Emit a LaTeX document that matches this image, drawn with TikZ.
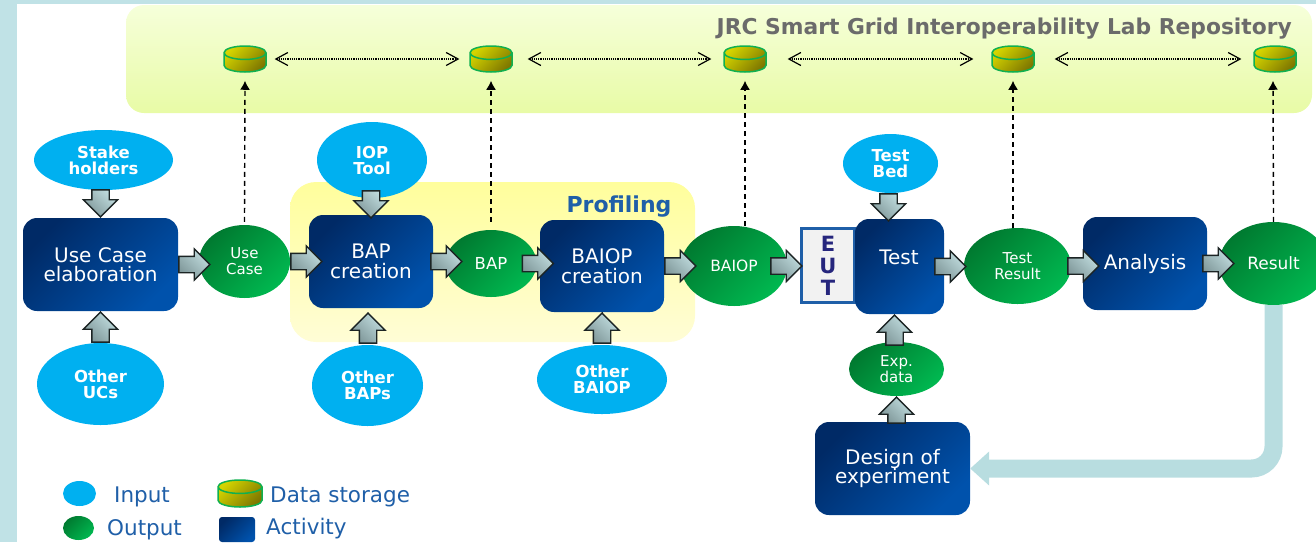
\documentclass[tikz,border=0pt]{standalone}
\usepackage{fontspec}
\setmainfont{DejaVu Sans}
\usetikzlibrary{arrows.meta,shapes.geometric,shapes.arrows}
\definecolor{framecol}{HTML}{C0E2E6}
\definecolor{inputcol}{HTML}{00B0F0}
\definecolor{labelcol}{HTML}{1F5FA8}
\definecolor{returncol}{HTML}{B8DDE0}
\definecolor{repotop}{HTML}{F6FFDA}
\definecolor{repobottom}{HTML}{E8FBA6}
\definecolor{profiletop}{HTML}{FFFE9C}
\definecolor{profilebottom}{HTML}{FFFDD6}
\definecolor{activitya}{HTML}{002A66}
\definecolor{activityb}{HTML}{0052AC}
\definecolor{outputa}{HTML}{007A30}
\definecolor{outputb}{HTML}{00B850}
\definecolor{storea}{HTML}{D4D400}
\definecolor{storeb}{HTML}{7F7800}
\definecolor{storeline}{HTML}{10B050}
\definecolor{arrowline}{HTML}{1C2424}
\definecolor{arrowa}{HTML}{7E9698}
\definecolor{arrowb}{HTML}{C2DEE0}
\tikzset{
	activity/.style={rectangle, rounded corners=14pt, inner sep=0pt, shade, shading=axis, left color=activitya, right color=activityb, shading angle=45, text=white, align=center, font=\fontsize{20}{19.5}\selectfont},
	input/.style={ellipse, inner sep=0pt, fill=inputcol, text=white, align=center, font=\bfseries\fontsize{16.5}{16}\selectfont},
	output/.style={ellipse, inner sep=0pt, shade, shading=axis, left color=outputa, right color=outputb, shading angle=45, text=white, align=center, font=\fontsize{15}{16}\selectfont},
	store/.style={cylinder, shape border rotate=90, shape aspect=0.32, inner xsep=21pt, inner ysep=0pt, minimum width=42pt, minimum height=26pt, anchor=shape center, draw=storeline, line width=1.5pt, shade, shading=axis, left color=storea, right color=storeb, shading angle=45},
	legendtext/.style={text=labelcol, font=\fontsize{21.5}{24}\selectfont, inner sep=0pt},
	flowline/.style={draw=arrowline, line width=0.5pt, shorten <=3pt},
	flowhead/.style={single arrow, inner xsep=0pt, inner ysep=7.5pt, minimum height=31pt, single arrow head extend=7.5pt, draw=arrowline, line width=1.3pt, shade, shading=axis, left color=arrowa, right color=arrowb, shading angle=135, pos=0, anchor=tail},
	flowdown/.style={flowhead, inner ysep=8pt, minimum height=27pt, single arrow head extend=8.5pt, rotate=-90, pos=1, anchor=tip},
	flowup/.style={flowhead, inner ysep=8pt, minimum height=30pt, single arrow head extend=8.5pt, rotate=90, pos=1, anchor=tip},
	savearrow/.style={-{Latex[length=9pt,width=10pt]}, line width=1.4pt, dash pattern=on 5pt off 4pt},
	linkarrow/.style={{Straight Barb[length=12pt,width=13pt]}-{Straight Barb[length=12pt,width=13pt]}, line width=1.2pt, dash pattern=on 1.2pt off 1pt},
	returnarrow/.style={draw=returncol, line width=18pt, rounded corners=22pt, -{Triangle[length=19pt,width=33pt]}}
}
\begin{document}
\begin{tikzpicture}[x=1pt,y=-1pt]
		\useasboundingbox (0,0) rectangle (1316,542);
		\fill[framecol] (0,0) rectangle (1316,4);
		\fill[framecol] (0,0) rectangle (17,542);
		\shade[top color=repotop, bottom color=repobottom, rounded corners=18pt] (126,5) rectangle (1312,113);
		\shade[top color=profiletop, bottom color=profilebottom, rounded corners=26pt] (290,182) rectangle (695,342);
		\node (repo) [anchor=east, inner sep=0pt, text=black!58, font=\bfseries\fontsize{21.8}{24}\selectfont] at (1292,29) {JRC Smart Grid Interoperability Lab Repository};
		\node (profiling) [inner sep=0pt, text=labelcol, font=\bfseries\fontsize{22}{24}\selectfont] at (619,207) {Profiling};

		\node (stuc) [store] at (245,59) {};
		\node (stbap) [store] at (491,59) {};
		\node (stbaiop) [store] at (745,59) {};
		\node (sttest) [store] at (1013,59) {};
		\node (stresult) [store] at (1275,59) {};

		\node (stake) [input, minimum width=139pt, minimum height=60pt] at (103.5,160) {Stake\\holders};
		\node (otheruc) [input, minimum width=127pt, minimum height=82pt] at (100.5,384) {Other\\UCs};
		\node (ioptool) [input, minimum width=110pt, minimum height=76pt] at (372,160) {IOP\\Tool};
		\node (otherbap) [input, minimum width=111pt, minimum height=81pt] at (367.5,385.5) {Other\\BAPs};
		\node (otherbaiop) [input, minimum width=130pt, minimum height=69pt] at (602,379.5) {Other\\BAIOP};
		\node (testbed) [input, minimum width=95pt, minimum height=59pt] at (890.5,163.5) {Test\\Bed};

		\node (ucelab) [activity, minimum width=155pt, minimum height=93pt] at (100.5,264.5) {Use Case\\elaboration};
		\node (bapcreate) [activity, minimum width=124pt, minimum height=93pt] at (371,261.5) {BAP\\creation};
		\node (baiopcreate) [activity, minimum width=124pt, minimum height=92pt] at (602,266) {BAIOP\\creation};
		\node (eut) [rectangle, draw=labelcol, line width=3pt, fill=black!5, minimum width=53pt, minimum height=74pt, inner sep=0pt, align=center, text=blue!40!black!85, font=\bfseries\fontsize{21}{22}\selectfont] at (828,265.5) {E\\U\\T};
		\node (test) [activity, minimum width=89pt, minimum height=95pt] at (899.5,266.5) {};
		\node (testtext) [inner sep=0pt, text=white, font=\fontsize{20}{20}\selectfont] at (899,257) {Test};
		\node (analysis) [activity, minimum width=124pt, minimum height=93pt] at (1145,263.5) {Analysis};
		\node (design) [activity, minimum width=155pt, minimum height=93pt] at (892.5,468.5) {Design of\\experiment};

		\node (ucout) [output, minimum width=91pt, minimum height=73pt] at (244.5,261.5) {Use\\Case};
		\node (bapout) [output, minimum width=91pt, minimum height=67pt, font=\fontsize{16.5}{16}\selectfont] at (491,263.5) {BAP};
		\node (baiopout) [output, minimum width=106pt, minimum height=80pt, font=\fontsize{15.5}{16}\selectfont] at (734,266) {BAIOP};
		\node (testout) [output, minimum width=107pt, minimum height=76pt] at (1017.5,266) {Test\\Result};
		\node (resultout) [output, minimum width=109pt, minimum height=83pt, font=\fontsize{17}{16}\selectfont] at (1273.5,263.5) {Result};
		\node (expdata) [output, minimum width=95pt, minimum height=54pt] at (896.5,369) {Exp.\\data};

		\draw[returnarrow] (resultout.south) |- (design.east);

		\draw[savearrow] ([yshift=3pt]ucout.north) -- ([yshift=-8pt]stuc.south);
		\draw[savearrow] ([yshift=8pt]bapout.north) -- ([yshift=-8pt]stbap.south);
		\draw[savearrow] (stbaiop.south |- baiopout.north) -- ([yshift=-8pt]stbaiop.south);
		\draw[savearrow] (sttest.south |- testout.north) -- ([yshift=-8pt]sttest.south);
		\draw[savearrow] (resultout.north) -- ([xshift=-2pt,yshift=-8pt]stresult.south);

		\draw[linkarrow, shorten <=8pt, shorten >=10pt] (stuc.shape center -| stuc.east) -- (stbap.shape center -| stbap.west);
		\draw[linkarrow, shorten <=15pt, shorten >=12pt] (stbap.shape center -| stbap.east) -- (stbaiop.shape center -| stbaiop.west);
		\draw[linkarrow, shorten <=21pt, shorten >=18pt] (stbaiop.shape center -| stbaiop.east) -- (sttest.shape center -| sttest.west);
		\draw[linkarrow, shorten <=20pt, shorten >=12pt] (sttest.shape center -| sttest.east) -- (stresult.shape center -| stresult.west);

		\draw[flowline] (ucelab.east) -- node[flowhead] {} (ucout.west);
		\draw[flowline] (ucout.east) -- node[flowhead] {} (bapcreate.west);
		\draw[flowline] ([xshift=-3pt]bapcreate.east) -- node[flowhead] {} (bapout.west);
		\draw[flowline] ([xshift=-15pt]bapout.east) -- node[flowhead] {} (baiopcreate.west);
		\draw[flowline] (baiopcreate.east) -- node[flowhead] {} (baiopout.west);
		\draw[flowline] ([xshift=-17pt]baiopout.east) -- node[flowhead] {} (eut.west);
		\draw[flowline] ([xshift=-10pt]test.east) -- node[flowhead] {} (testout.west);
		\draw[flowline] ([xshift=-4pt]testout.east) -- node[flowhead] {} (analysis.west);
		\draw[flowline] ([xshift=-5pt]analysis.east) -- node[flowhead] {} (resultout.west);

		\draw[flowline] (stake.south) -- node[flowdown] {} (ucelab.north);
		\draw[flowline] (otheruc.north) -- node[flowup] {} (ucelab.south);
		\draw[flowline] (ioptool.south) -- node[flowdown] {} ([yshift=-4pt]bapcreate.north);
		\draw[flowline] (otherbap.north) -- node[flowup] {} ([xshift=-3pt,yshift=-4pt]bapcreate.south);
		\draw[flowline] (otherbaiop.north) -- node[flowup] {} (baiopcreate.south);
		\draw[flowline] (testbed.south) -- node[flowdown] {} ([xshift=-11pt,yshift=-3pt]test.north);
		\draw[flowline] (expdata.north) -- node[flowup] {} ([xshift=-5pt]test.south);
		\draw[flowline] (design.north) -- node[flowup, minimum height=26pt] {} (expdata.south);

		\node (keyinput) [ellipse, fill=inputcol, minimum width=33pt, minimum height=25pt, inner sep=0pt] at (79.5,493.5) {};
		\node (keyinputtext) [legendtext, anchor=west] at (114,497) {Input};
		\node (keyoutput) [output, minimum width=31pt, minimum height=24pt] at (78.5,528) {};
		\node (keyoutputtext) [legendtext, anchor=west] at (107,530) {Output};
		\node (keystore) [store, minimum width=44pt, minimum height=27pt] at (240,493.5) {};
		\node (keystoretext) [legendtext, anchor=west] at (270,497) {Data storage};
		\node (keyactivity) [activity, rounded corners=3pt, minimum width=36pt, minimum height=25pt] at (237,529.5) {};
		\node (keyactivitytext) [legendtext, anchor=west] at (266,529) {Activity};
		\end{tikzpicture}
\end{document}
